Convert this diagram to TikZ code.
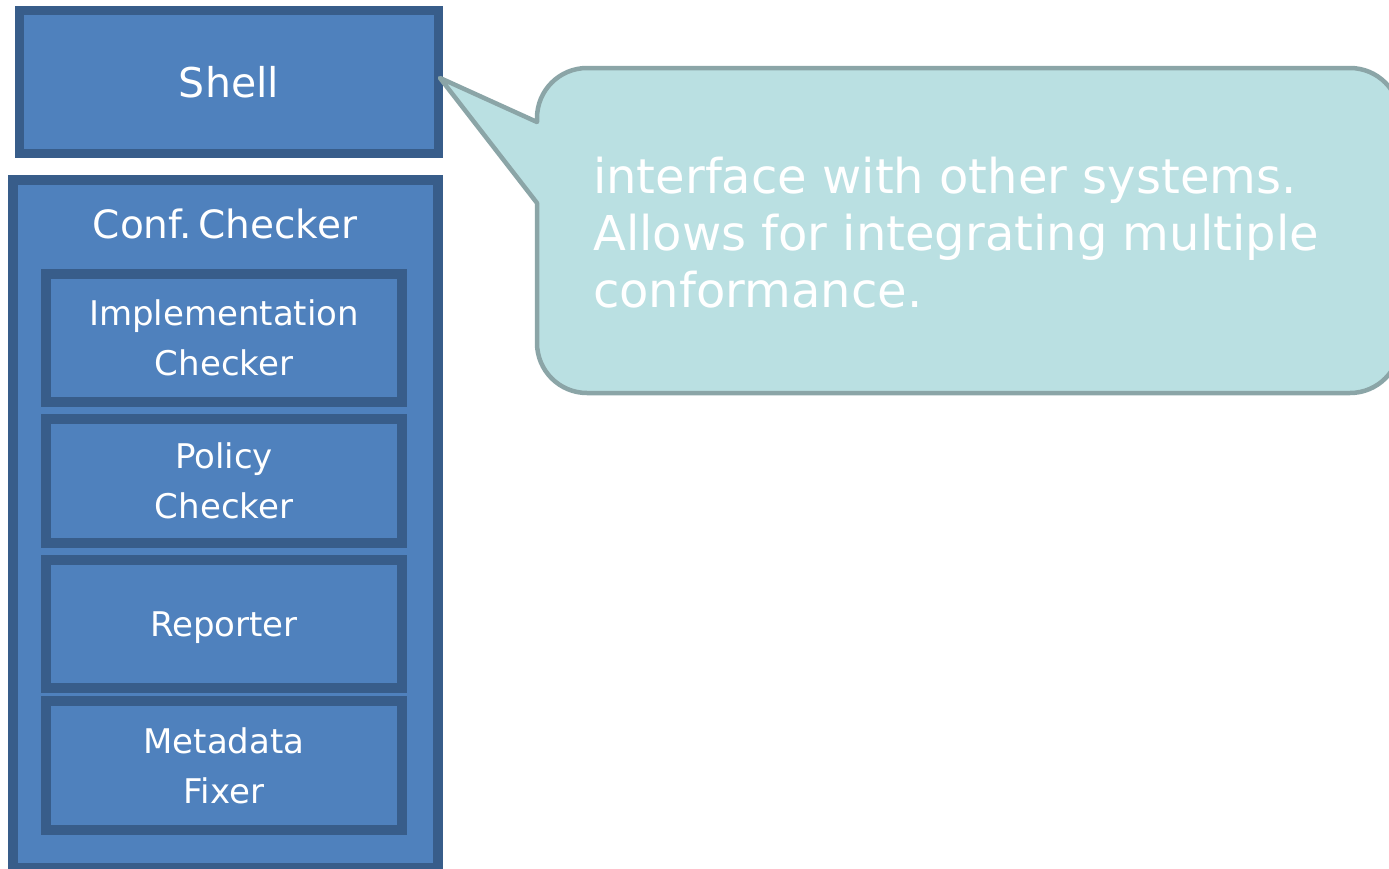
\documentclass[tikz,border=0pt]{standalone}
\usepackage{fontspec}
\setmainfont{DejaVu Sans}
\definecolor{boxfill}{HTML}{4F81BD}
\definecolor{boxedge}{HTML}{385D8A}
\definecolor{notefill}{HTML}{BAE0E2}
\definecolor{noteedge}{HTML}{8BA5A7}
\begin{document}
\begin{tikzpicture}[x=1pt,y=-1pt,
  box/.style={draw=boxedge, fill=boxfill, text=white, align=center, inner sep=0pt},
  outerbox/.style={box, line width=10pt},
  partbox/.style={box, line width=10pt, minimum width=356pt,
    font=\fontsize{34}{50}\selectfont},
  note/.style={draw=noteedge, fill=notefill, line width=4.5pt, line join=round},
  notetext/.style={text=white, align=left, inner sep=0pt,
    font=\fontsize{48}{57}\selectfont}]
\useasboundingbox (0,0) rectangle (1389,868);
\clip (0,0) rectangle (1389,868);

% shell
\node[box, line width=9pt, minimum width=419pt, minimum height=143pt,
  font=\fontsize{41}{49}\selectfont] (shell) at (229,82) {Shell};

% conformance checker and its parts
\node[outerbox, minimum width=425pt, minimum height=688pt] (conf) at (225.5,524) {};
\node[text=white, font=\fontsize{39}{47}\selectfont, anchor=base] (conftitle)
  at (225,238) {Conf.\,Checker};
\node[partbox, minimum height=128pt] (impl) at (224,338) {Implementation\\Checker};
\node[partbox, minimum height=124pt] (policy) at (224,481) {Policy\\Checker};
\node[partbox, minimum height=128pt, text depth=0pt] (reporter) at (224,624) {Reporter};
\node[partbox, minimum height=129pt] (fixer) at (224,765.5) {Metadata\\Fixer};

% speech bubble pointing at the shell (right side runs past the edge)
\coordinate (tip) at (440,78);
\draw[note] (537,122) -- (tip) -- (537,203) -- (537,343)
  .. controls (537,370.6) and (559.4,393) .. (587,393) -- (1350,393)
  .. controls (1377.6,393) and (1400,370.6) .. (1400,343) -- (1400,118)
  .. controls (1400,90.4) and (1377.6,68) .. (1350,68) -- (587,68)
  .. controls (559.4,68) and (537,90.4) .. (537,118) -- cycle;
\node[notetext, anchor=north west] (notebody) at (593,157)
  {interface with other systems.\\Allows for integrating multiple\\conformance.};
\end{tikzpicture}
\end{document}
